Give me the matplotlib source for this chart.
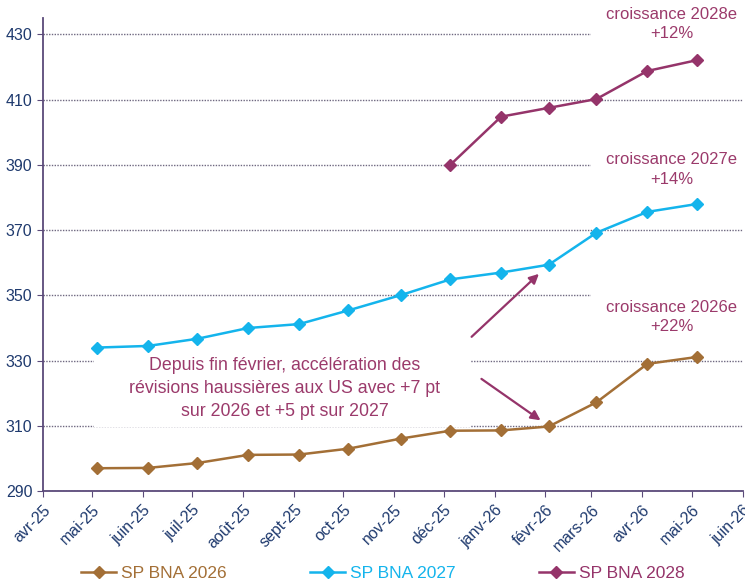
import matplotlib.pyplot as plt
import matplotlib.dates as mdates
from matplotlib.patches import Rectangle
import datetime as dt

plt.rcParams['font.family'] = ['Liberation Sans', 'DejaVu Sans']

dates = ["2025-05-04", "2025-06-04", "2025-07-04", "2025-08-04", "2025-09-04",
         "2025-10-04", "2025-11-05", "2025-12-05", "2026-01-05", "2026-02-03",
         "2026-03-04", "2026-04-04", "2026-05-04"]
sp2026 = [297.0, 297.1, 298.6, 301.1, 301.2, 303.0, 306.1, 308.5, 308.6, 309.8,
          317.2, 329.0, 331.1]
sp2027 = [334.0, 334.5, 336.7, 340.0, 341.2, 345.4, 350.1, 354.9, 357.0, 359.4,
          369.2, 375.6, 378.0]
dates_2028 = dates[7:]
sp2028 = [390.0, 404.8, 407.5, 410.2, 418.8, 422.1]

month_labels = ["avr-25", "mai-25", "juin-25", "juil-25", "août-25", "sept-25",
                "oct-25", "nov-25", "déc-25", "janv-26", "févr-26", "mars-26",
                "avr-26", "mai-26", "juin-26"]

c26 = '#A36F36'
c27 = '#14B4EC'
c28 = '#95346A'
navy = '#1F3A6E'
axis_col = '#5B4A7A'

d = lambda s: dt.datetime.strptime(s, "%Y-%m-%d")
x = [d(s) for s in dates]
x28 = [d(s) for s in dates_2028]

fig = plt.figure(figsize=(7.45, 5.86), dpi=100)
ax = fig.add_axes([0.0577, 0.162, 0.939, 0.807])

ax.plot(x, sp2026, color=c26, lw=1.8, marker='D', ms=6, label='SP BNA 2026', zorder=5)
ax.plot(x, sp2027, color=c27, lw=1.8, marker='D', ms=6, label='SP BNA 2027', zorder=5)
ax.plot(x28, sp2028, color=c28, lw=1.8, marker='D', ms=6, label='SP BNA 2028', zorder=5)

ax.set_ylim(290, 435)
ax.set_yticks(range(290, 431, 20))
ax.set_xlim(d("2025-04-01"), d("2026-06-01"))
ticks = [dt.datetime(2025 + (3 + i) // 12, (3 + i) % 12 + 1, 1) for i in range(15)]
ax.set_xticks(ticks)
ax.set_xticklabels(month_labels, rotation=45, ha='right', rotation_mode='anchor')

ax.yaxis.grid(True, linestyle=(0, (1, 1)), color='#6F6880', lw=1.0)
ax.set_axisbelow(True)
for s in ['top', 'right']:
    ax.spines[s].set_visible(False)
for s in ['left', 'bottom']:
    ax.spines[s].set_color(axis_col)
    ax.spines[s].set_linewidth(1.3)
ax.tick_params(axis='both', colors=axis_col, labelcolor=navy, labelsize=11.5, length=4)
ax.tick_params(axis='x', pad=4)

# white box behind the central comment
ax.add_patch(Rectangle((d("2025-05-02"), 309.6), d("2025-12-17") - d("2025-05-02"), 21.5,
                       facecolor='white', edgecolor='none', zorder=2))
ax.text(d("2025-08-26"), 321.5,
        "Depuis fin février, accélération des\nrévisions haussières aux US avec +7 pt\nsur 2026 et +5 pt sur 2027",
        ha='center', va='center', fontsize=12.8, color='#9B3A6B', linespacing=1.44, zorder=3)

for ypos, txt in [(433.1, "croissance 2028e\n+12%"), (388.6, "croissance 2027e\n+14%"),
                  (343.3, "croissance 2026e\n+22%")]:
    ax.text(d("2026-04-19"), ypos, txt, ha='center', va='center', fontsize=12,
            color='#9B3A6B', linespacing=1.35, zorder=3, clip_on=False,
            bbox=dict(boxstyle='square,pad=0.9', facecolor='white', edgecolor='none'))

arrow = dict(arrowstyle='-|>', color=c28, lw=1.6, mutation_scale=14, shrinkA=0, shrinkB=0)
ax.annotate("", xy=(d("2026-01-28"), 356.6), xytext=(d("2025-12-18"), 337.3),
            arrowprops=arrow, zorder=4)
ax.annotate("", xy=(d("2026-01-29"), 311.7), xytext=(d("2025-12-24"), 324.4),
            arrowprops=arrow, zorder=4)

leg = fig.legend(loc='lower center', bbox_to_anchor=(0.514, -0.018), ncol=3, frameon=False,
                 fontsize=12.5, columnspacing=4.8, handlelength=2.0, handletextpad=0.3)
for t, c in zip(leg.get_texts(), [c26, c27, c28]):
    t.set_color(c)

fig.savefig('out.png', dpi=100)
